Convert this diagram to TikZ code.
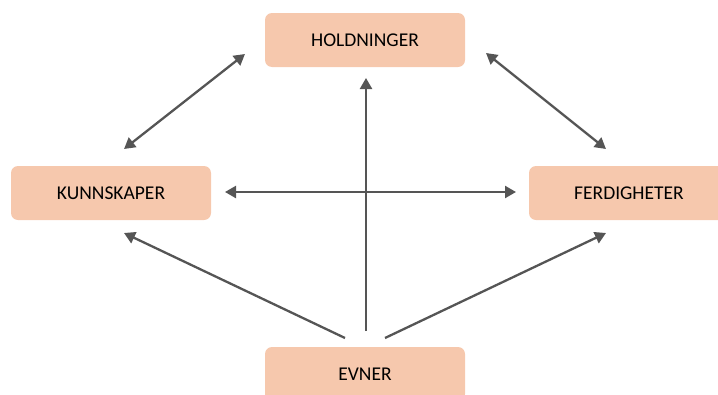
\documentclass[tikz,border=0pt]{standalone}
\usepackage{fontspec}
\setmainfont{Carlito}
\usetikzlibrary{arrows.meta}
\definecolor{peach}{HTML}{F6C8AD}
\definecolor{arrowgrey}{HTML}{555555}
\begin{document}
\begin{tikzpicture}[x=1pt,y=-1pt,
  box/.style={fill=peach,rounded corners=7pt,minimum width=200pt,minimum height=54pt,inner sep=0pt,
    font=\fontsize{19.5}{23}\selectfont,text=black},
  conn/.style={draw=arrowgrey,line width=2.3pt,
    -{Triangle[length=11pt,width=12pt]}},
  biconn/.style={draw=arrowgrey,line width=2.3pt,
    {Triangle[length=11pt,width=12pt]}-{Triangle[length=11pt,width=12pt]}}]
\useasboundingbox (0,0) rectangle (718,394);
\node[box] (h) at (365,40) {HOLDNINGER};
\node[box] (k) at (111,193) {KUNNSKAPER};
\node[box] (f) at (629,193) {FERDIGHETER};
\node[box] (e) at (365,374) {EVNER};
% connector ends
\coordinate (hl) at (245,54);
\coordinate (kt) at (124,149);
\coordinate (hr) at (486,53);
\coordinate (ft) at (606,149);
\coordinate (kr) at (225,192);
\coordinate (fl) at (516,192);
\coordinate (hb) at (366,78);
\coordinate (eb) at (366,331);
\coordinate (el) at (345,338);
\coordinate (kb) at (124,233);
\coordinate (er) at (385,338);
\coordinate (fb) at (606,233);
\draw[biconn] (kt) -- (hl);
\draw[biconn] (hr) -- (ft);
\draw[biconn] (kr) -- (fl);
\draw[conn] (eb) -- (hb);
\draw[conn] (el) -- (kb);
\draw[conn] (er) -- (fb);
\end{tikzpicture}
\end{document}
